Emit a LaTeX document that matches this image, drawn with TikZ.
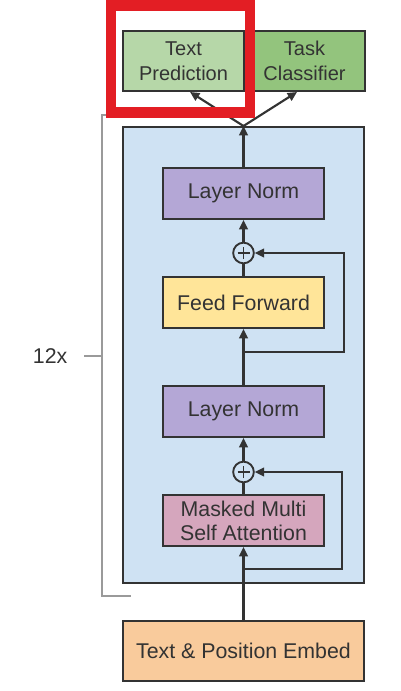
\documentclass[tikz,border=0pt]{standalone}
\usepackage{fontspec}
\setmainfont{Liberation Sans}
\usetikzlibrary{arrows.meta}
\definecolor{blockblue}{HTML}{CFE2F3}
\definecolor{lnpurple}{HTML}{B4A7D6}
\definecolor{ffyellow}{HTML}{FFE599}
\definecolor{mapink}{HTML}{D5A6BD}
\definecolor{embor}{HTML}{F9CB9C}
\definecolor{tpgreen}{HTML}{B6D7A8}
\definecolor{tcgreen}{HTML}{93C47D}
\definecolor{hlred}{HTML}{E31E24}
\definecolor{edge}{HTML}{333333}
\definecolor{txt}{HTML}{333333}
\definecolor{brk}{HTML}{9A9A9A}
\begin{document}
\begin{tikzpicture}[x=0.75pt,y=-0.75pt,
  box/.style={draw=edge, line width=1.5pt, rectangle, minimum width=120.75pt, minimum height=38.25pt, inner sep=0pt, align=center, text=txt, font=\fontsize{16}{18}\selectfont},
  topbox/.style={draw=edge, line width=1.5pt, rectangle, minimum width=90.75pt, minimum height=45pt, inner sep=0pt, align=center, text=txt, font=\fontsize{15}{18.5}\selectfont},
  plusc/.style={draw=edge, line width=1.4pt, circle, minimum size=15.5pt, inner sep=0pt,
    path picture={\draw[edge, line width=1.3pt] ([xshift=-4.5pt]path picture bounding box.center) -- ([xshift=4.5pt]path picture bounding box.center);
                  \draw[edge, line width=1.3pt] ([yshift=-4.5pt]path picture bounding box.center) -- ([yshift=4.5pt]path picture bounding box.center);}},
  conn/.style={draw=edge, line width=1.6pt},
  arr/.style={conn, -{Triangle[length=7pt,width=6.5pt]}}
]
\useasboundingbox (0,0) rectangle (400,691);

% main block background
\node[draw=edge, line width=1.5pt, fill=blockblue, minimum width=180.75pt, minimum height=342pt, inner sep=0pt] (block) at (243.5,355) {};

% top heads
\node[topbox, fill=tpgreen] (tp) at (183.5,61) {Text\\Prediction};
\node[topbox, fill=tcgreen] (tc) at (304.5,61) {Task\\Classifier};

% inner boxes
\node[box, fill=lnpurple] (ln1) at (243.5,193.5) {Layer Norm};
\node[plusc, fill=blockblue] (c1) at (243.5,253) {};
\node[box, fill=ffyellow] (ff) at (243.5,302.5) {Feed Forward};
\node[box, fill=lnpurple] (ln2) at (243.5,411.5) {Layer Norm};
\node[plusc, fill=blockblue] (c2) at (243.5,472) {};
\node[box, fill=mapink] (ma) at (243.5,520.5) {Masked Multi\\Self Attention};

% embedding
\node[draw=edge, line width=1.5pt, fill=embor, minimum width=180.75pt, minimum height=45pt, inner sep=0pt, text=txt, font=\fontsize{16}{18}\selectfont] (emb) at (243.5,651) {Text \& Position Embed};

% connectors
\coordinate (s1) at (243.5,352);
\coordinate (s1r) at (344,352);
\coordinate (s2) at (243.5,569);
\coordinate (s2r) at (342,569);

\draw[arr] (emb.north) -- (ma.south);
\draw[arr] (s2) -- (s2r) |- (c2.east);
\draw[conn] (ma.north) -- (c2.south);
\draw[arr] (c2.north) -- (ln2.south);
\draw[arr] (ln2.north) -- (ff.south);
\draw[arr] (s1) -- (s1r) |- (c1.east);
\draw[conn] (ff.north) -- (c1.south);
\draw[arr] (c1.north) -- (ln1.south);
\draw[arr] (ln1.north) -- (block.north);
\draw[arr] (block.north) -- ([xshift=4.9pt]tp.south);
\draw[arr] (block.north) -- ([xshift=-5.6pt]tc.south);

% repetition bracket
\coordinate (bt) at (131,115);
\coordinate (btl) at (102,115);
\coordinate (bbl) at (102,596);
\coordinate (bb) at (131,596);
\coordinate (bm) at (102,356);
\coordinate (bmt) at (84,356);
\draw[brk, line width=1.2pt] (bt) -- (btl) -- (bbl) -- (bb);
\draw[brk, line width=1.2pt] (bm) -- (bmt);
\node[text=txt, font=\fontsize{16}{18}\selectfont, anchor=east] (rep) at (72,356) {12x};

% red highlight
\draw[hlred, line width=7.9pt] (111,5.3) rectangle (250,112.3);
\end{tikzpicture}
\end{document}
